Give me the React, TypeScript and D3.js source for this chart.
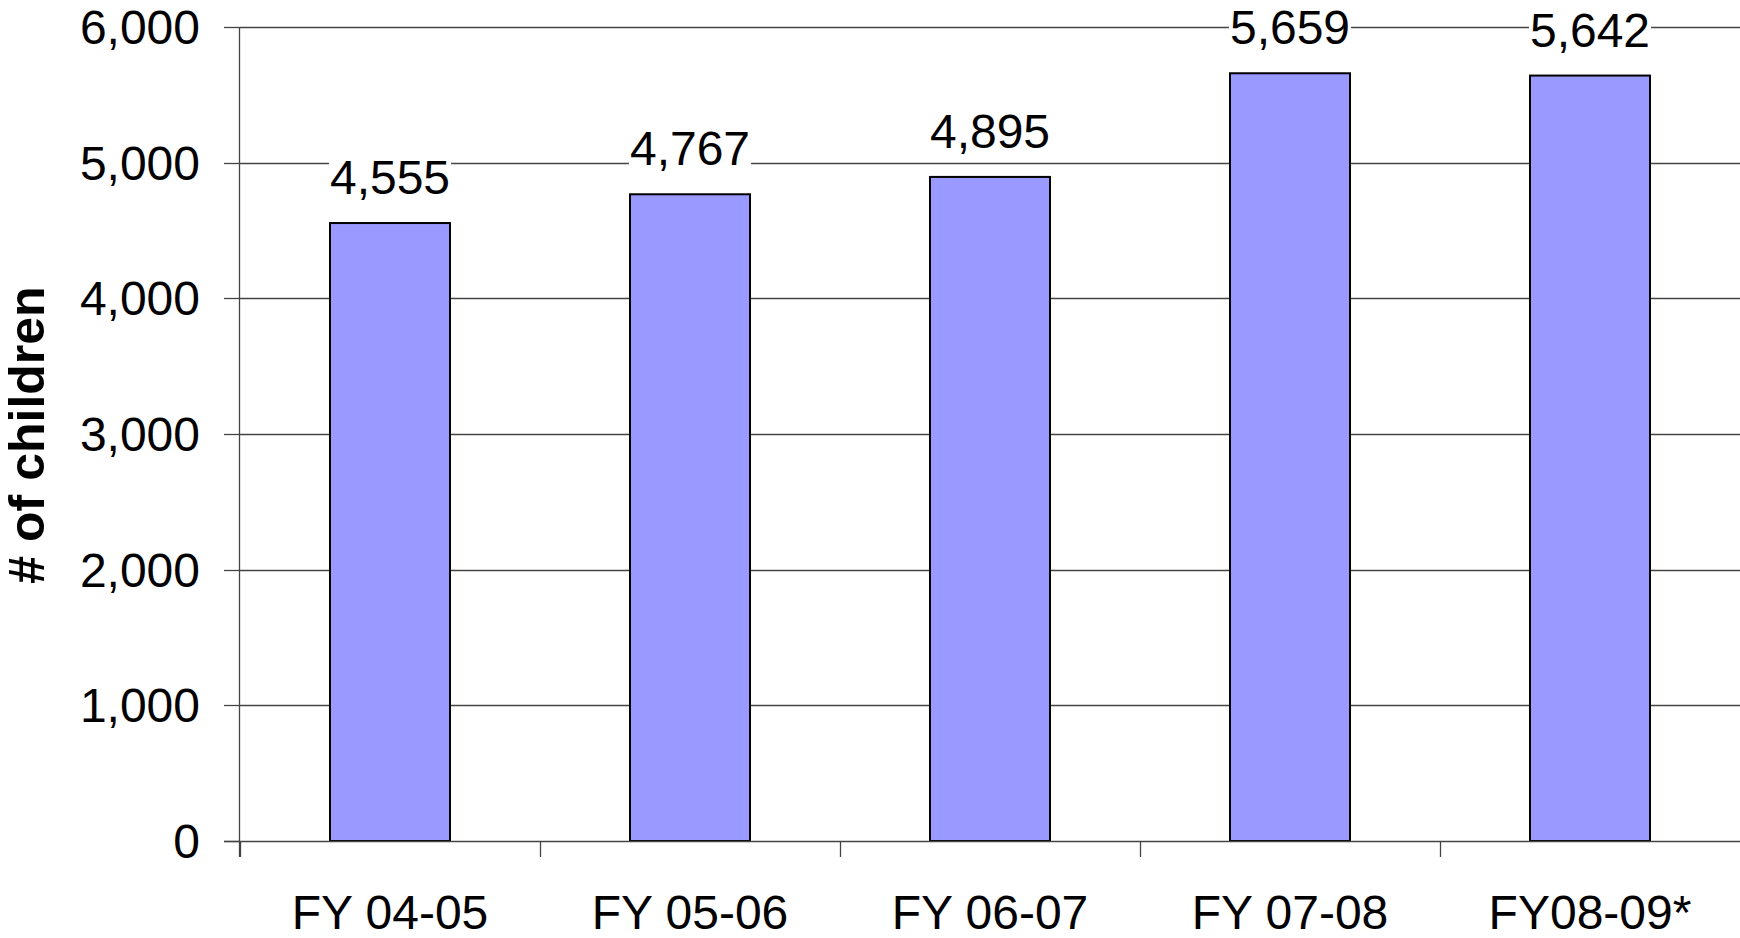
import React, { useEffect, useRef } from "react";
import * as d3 from "d3";

const categories = ["FY 04-05", "FY 05-06", "FY 06-07", "FY 07-08", "FY08-09*"];
const values = [4555, 4767, 4895, 5659, 5642];
const yTicks = [0, 1000, 2000, 3000, 4000, 5000, 6000];
const yTitle = "# of children";

export default function App() {
  const ref = useRef<SVGSVGElement | null>(null);

  useEffect(() => {
    document.body.style.margin = "0";
    const svg = d3.select(ref.current);
    svg.selectAll("*").remove();
    const font = "'Liberation Sans', Arial, sans-serif";

    const x = d3
      .scaleBand<string>()
      .domain(categories)
      .range([240, 1740])
      .paddingInner(0.6)
      .paddingOuter(0.3);
    const y = d3.scaleLinear().domain([0, 6000]).range([841, 27]);
    const fmt = d3.format(",");

    // gridlines
    svg
      .append("g")
      .selectAll("line")
      .data(yTicks.filter((t) => t > 0))
      .join("line")
      .attr("x1", 240)
      .attr("x2", 1740)
      .attr("y1", (d) => Math.round(y(d)) + 0.5)
      .attr("y2", (d) => Math.round(y(d)) + 0.5)
      .attr("stroke", "#444")
      .attr("stroke-width", 1.3);

    // y ticks
    svg
      .append("g")
      .selectAll("line")
      .data(yTicks)
      .join("line")
      .attr("x1", 224)
      .attr("x2", 240)
      .attr("y1", (d) => Math.round(y(d)) + 0.5)
      .attr("y2", (d) => Math.round(y(d)) + 0.5)
      .attr("stroke", "#444")
      .attr("stroke-width", 1.3);

    svg
      .append("g")
      .selectAll("text")
      .data(yTicks)
      .join("text")
      .attr("x", 200)
      .attr("y", (d) => y(d) + 17)
      .attr("text-anchor", "end")
      .attr("font-family", font)
      .attr("font-size", 48)
      .attr("fill", "#000")
      .text((d) => fmt(d));

    // bars
    svg
      .append("g")
      .selectAll("rect")
      .data(values)
      .join("rect")
      .attr("x", (_, i) => x(categories[i])!)
      .attr("y", (d) => y(d))
      .attr("width", x.bandwidth())
      .attr("height", (d) => y(0) - y(d))
      .attr("fill", "#9999FF")
      .attr("stroke", "#000")
      .attr("stroke-width", 2);

    // axes lines
    svg
      .append("line")
      .attr("x1", 239.5)
      .attr("x2", 239.5)
      .attr("y1", y(6000))
      .attr("y2", y(0) + 16)
      .attr("stroke", "#444")
      .attr("stroke-width", 1.3);
    svg
      .append("line")
      .attr("x1", 224)
      .attr("x2", 1740)
      .attr("y1", Math.round(y(0)) + 0.5)
      .attr("y2", Math.round(y(0)) + 0.5)
      .attr("stroke", "#444")
      .attr("stroke-width", 1.5);

    // x ticks at category boundaries
    const bounds = categories.map((c) => x(c)! - x.step() * 0.3);
    svg
      .append("g")
      .selectAll("line")
      .data(bounds)
      .join("line")
      .attr("x1", (d) => Math.round(d) + 0.5)
      .attr("x2", (d) => Math.round(d) + 0.5)
      .attr("y1", y(0))
      .attr("y2", y(0) + 16)
      .attr("stroke", "#444")
      .attr("stroke-width", 1.3);

    // x labels
    svg
      .append("g")
      .selectAll("text")
      .data(categories)
      .join("text")
      .attr("x", (d) => x(d)! + x.bandwidth() / 2)
      .attr("y", 929)
      .attr("text-anchor", "middle")
      .attr("font-family", font)
      .attr("font-size", 48)
      .attr("fill", "#000")
      .text((d) => d);

    // value labels with white backgrounds
    const lg = svg.append("g");
    values.forEach((v, i) => {
      const cx = x(categories[i])! + x.bandwidth() / 2;
      const by = y(v) - 29;
      const bg = lg.append("rect").attr("fill", "#fff");
      const t = lg
        .append("text")
        .attr("x", cx)
        .attr("y", by)
        .attr("text-anchor", "middle")
        .attr("font-family", font)
        .attr("font-size", 48)
        .attr("fill", "#000")
        .text(fmt(v));
      const bb = (t.node() as SVGTextElement).getBBox();
      bg.attr("x", bb.x - 1)
        .attr("y", bb.y)
        .attr("width", bb.width + 2)
        .attr("height", bb.height);
    });

    // y title
    svg
      .append("text")
      .attr("transform", "translate(44,435) rotate(-90)")
      .attr("text-anchor", "middle")
      .attr("font-family", font)
      .attr("font-size", 50)
      .attr("font-weight", "bold")
      .attr("fill", "#000")
      .text(yTitle);
  }, []);

  return (
    <svg
      ref={ref}
      width={1740}
      height={938}
      style={{ display: "block", position: "absolute", left: 0, top: 0, background: "#fff" }}
    />
  );
}
